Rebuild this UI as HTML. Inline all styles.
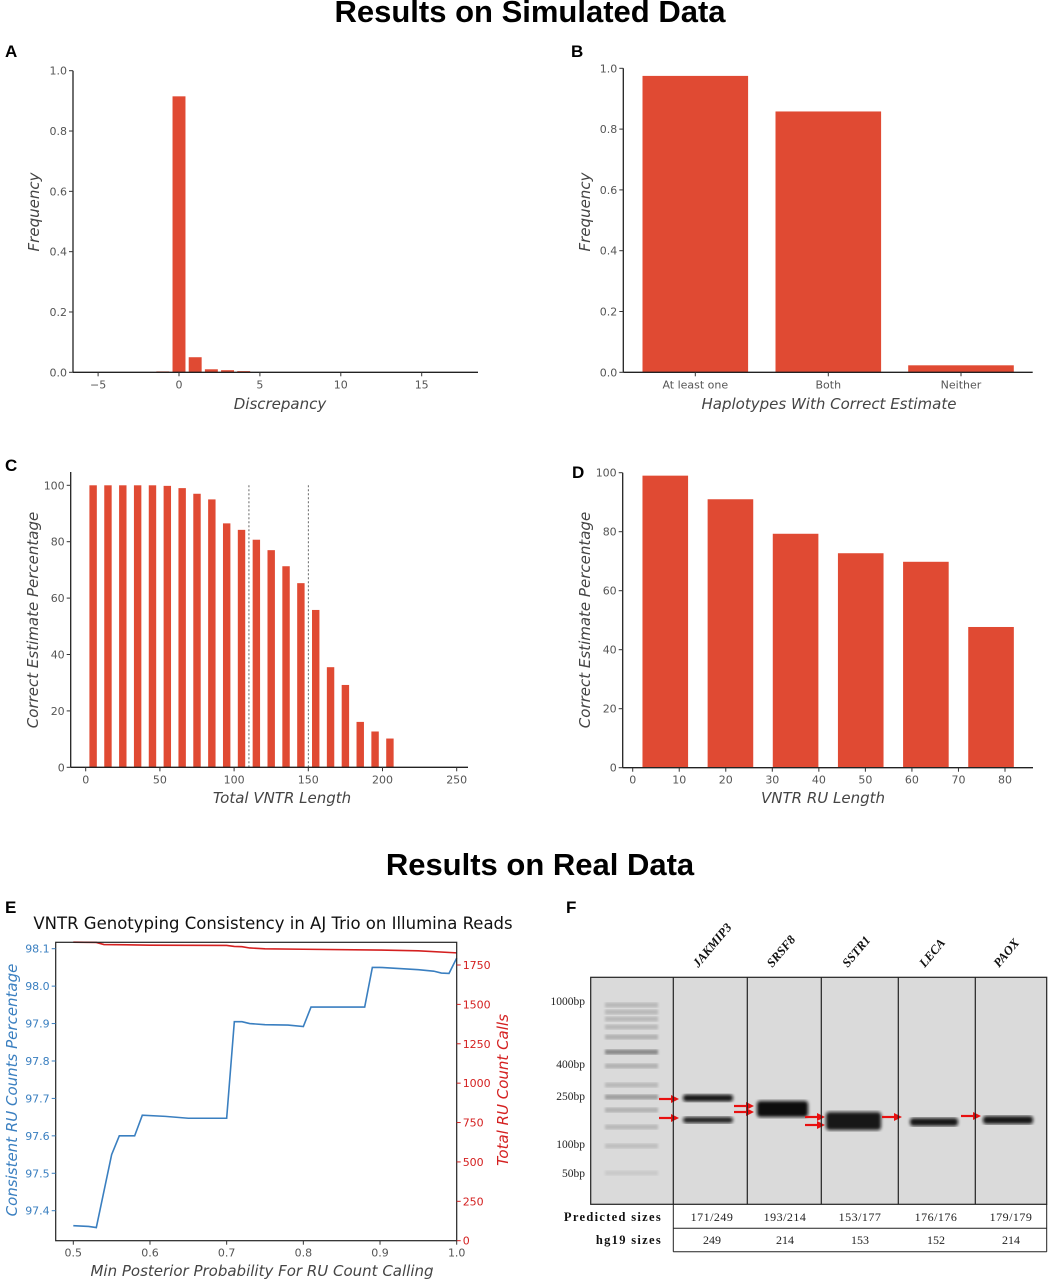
<!DOCTYPE html>
<html><head><meta charset="utf-8"><style>
html,body{margin:0;padding:0;background:#fff;}
svg{display:block;font-family:"DejaVu Sans","Liberation Sans",sans-serif;}
.tick{font-size:11px;fill:#555;}
.alab{font-size:15px;fill:#444;font-style:italic;}
.plet{font-size:17px;font-weight:bold;font-family:"Liberation Sans",sans-serif;fill:#000;}
.sec{font-size:31px;font-weight:bold;font-family:"Liberation Sans",sans-serif;fill:#000;}
.serif{font-family:"Liberation Serif","DejaVu Serif",serif;}
</style></head><body>
<svg id="fig" width="1049" height="1280" viewBox="0 0 1049 1280" xmlns="http://www.w3.org/2000/svg">
<text class="sec" x="530" y="22" text-anchor="middle">Results on Simulated Data</text>
<text class="sec" x="540" y="875" text-anchor="middle">Results on Real Data</text>
<text class="plet" x="5" y="57">A</text>
<text class="plet" x="571" y="57">B</text>
<text class="plet" x="5" y="471">C</text>
<text class="plet" x="572" y="478">D</text>
<text class="plet" x="5" y="913">E</text>
<text class="plet" x="566" y="913">F</text>
<g id="gA"></g>
<g id="gB"></g>
<g id="gC"></g>
<g id="gD"></g>
<g id="gE"></g>
<g id="gF"></g>
</svg>
<script>
// ---- Panel A data ----
const aCats = [-1, 0, 1, 2, 3, 4];
const aVals = [0.003, 0.915, 0.05, 0.01, 0.007, 0.004];
const aXTicks = [-5, 0, 5, 10, 15];
const aYTicks = [0, 0.2, 0.4, 0.6, 0.8, 1.0];
// ---- Panel B data ----
const bCats = ["At least one", "Both", "Neither"];
const bVals = [0.975, 0.858, 0.023];
const bYTicks = [0, 0.2, 0.4, 0.6, 0.8, 1.0];
// ---- Panel C data ----
const cCats = [5,15,25,35,45,55,65,75,85,95,105,115,125,135,145,155,165,175,185,195,205];
const cVals = [100,100,100,100,100,99.8,99,97,95,86.5,84.2,80.7,77,71.3,65.3,55.8,35.5,29.2,16.1,12.7,10.2];
const cXTicks = [0,50,100,150,200,250];
const cYTicks = [0,20,40,60,80,100];
const cDashed = [110,150];
// ---- Panel D data ----
const dCats = [7,21,35,49,63,77];
const dVals = [99,91,79.3,72.7,69.8,47.7];
const dXTicks = [0,10,20,30,40,50,60,70,80];
const dYTicks = [0,20,40,60,80,100];
// ---- Panel E data ----
const eX = [0.5,0.52,0.53,0.55,0.56,0.58,0.59,0.62,0.65,0.70,0.71,0.72,0.73,0.75,0.78,0.80,0.81,0.88,0.89,0.90,0.95,0.97,0.98,0.99,1.0];
const eConsistent = [97.36,97.358,97.355,97.55,97.60,97.60,97.655,97.652,97.647,97.647,97.905,97.905,97.90,97.897,97.896,97.892,97.944,97.944,98.05,98.05,98.044,98.04,98.035,98.034,98.075];
const eTotalX = [0.5,0.53,0.54,0.6,0.70,0.71,0.72,0.73,0.75,0.80,0.9,0.95,1.0];
const eTotal = [1895,1893,1880,1876,1874,1868,1866,1858,1853,1850,1845,1840,1827];
const eXTicks = [0.5,0.6,0.7,0.8,0.9,1.0];
const eLTicks = [97.4,97.5,97.6,97.7,97.8,97.9,98.0,98.1];
const eRTicks = [0,250,500,750,1000,1250,1500,1750];
// ---- Panel F data ----
const fLanes = ["JAKMIP3","SRSF8","SSTR1","LECA","PAOX"];
const fPredicted = ["171/249","193/214","153/177","176/176","179/179"];
const fHg19 = ["249","214","153","152","214"];
const fLadder = ["1000bp","400bp","250bp","100bp","50bp"];

const NS="http://www.w3.org/2000/svg";
const RED="#e04a33";
function el(parent,tag,attrs,text){const e=document.createElementNS(NS,tag);for(const k in attrs)e.setAttribute(k,attrs[k]);if(text!==undefined)e.textContent=text;parent.appendChild(e);return e;}
function lin(d0,d1,r0,r1){return v=>r0+(v-d0)*(r1-r0)/(d1-d0);}
function fmt(v,dec){return v<0?"\u2212"+Math.abs(v).toFixed(dec):v.toFixed(dec);}

function axesBasic(g,x0,x1,y0,y1){
  const l1=el(g,"line",{x1:x0,y1:y0,x2:x0,y2:y1,stroke:"#222","stroke-width":1.3});
  
  
  const l2=el(g,"line",{x1:x0,y1:y0,x2:x1,y2:y0,stroke:"#222","stroke-width":1.3});
  
  
}
function yTicks(g,ax,sy,ticks,dec,color){
  ticks.forEach(t=>{const y=sy(t);
    el(g,"line",{x1:ax-4,y1:y,x2:ax,y2:y,stroke:color||"#333"});
    const tx=el(g,"text",{x:ax-6,y:y+4,"text-anchor":"end",class:"tick"},fmt(t,dec));
    if(color)tx.style.fill=color;
    
    });
}
function xTicks(g,ay,sx,ticks,labels){
  ticks.forEach((t,i)=>{const x=sx(t);
    el(g,"line",{x1:x,y1:ay,x2:x,y2:ay+4,stroke:"#333"});
    const tx=el(g,"text",{x:x,y:ay+16,"text-anchor":"middle",class:"tick"},labels?labels[i]:String(t));
    
    });
}
function axTitle(g,x,y,txt,rot,name,color){
  const t=el(g,"text",{x:x,y:y,"text-anchor":"middle",class:"alab"},txt);
  if(rot)t.setAttribute("transform",`rotate(-90 ${x} ${y})`);
  if(color)t.style.fill=color;
  
  
}
function bars(g,cats,vals,sx,sy,w,name){
  cats.forEach((c,i)=>{const x=sx(c);const y=sy(vals[i]);
    const r=el(g,"rect",{x:x-w/2,y:y,width:w,height:sy(0)-y,fill:RED});
    
    });
}

// Panel A
(function(){const g=document.getElementById("gA");
  const sx=lin(0,15,179,421.7), sy=lin(0,1,372.3,70.7);
  bars(g,aCats,aVals,sx,sy,0.8*(sx(1)-sx(0)),"bar-a");
  axesBasic(g,73,478,372.3,70.7);
  yTicks(g,73,sy,aYTicks,1);xTicks(g,372.3,sx,aXTicks,aXTicks.map(v=>fmt(v,0)));
  axTitle(g,280,409,"Discrepancy",false,"x-axis-title-a");
  axTitle(g,39,212,"Frequency",true,"y-axis-title-a");
})();
// Panel B
(function(){const g=document.getElementById("gB");
  const pos=[695.3,828.3,961];const sy=lin(0,1,372.3,68.3);
  const sx=i=>pos[i];
  bars(g,bCats.map((c,i)=>i),bVals,sx,sy,105.6,"bar-b");
  axesBasic(g,623.3,1032.7,372.3,68.3);
  yTicks(g,623.3,sy,bYTicks,1);xTicks(g,372.3,sx,bCats.map((c,i)=>i),bCats);
  axTitle(g,829,409,"Haplotypes With Correct Estimate",false,"x-axis-title-b");
  axTitle(g,590,212,"Frequency",true,"y-axis-title-b");
})();
// Panel C
(function(){const g=document.getElementById("gC");
  const sx=lin(0,250,85.7,456.7), sy=lin(0,100,767.3,485.3);
  bars(g,cCats,cVals,sx,sy,5*(sx(1)-sx(0)),"bar-c");
  cDashed.forEach(v=>{const l=el(g,"line",{x1:sx(v),y1:sy(0),x2:sx(v),y2:sy(100),stroke:"#444","stroke-width":0.8,"stroke-dasharray":"2,2"});
    
    });
  axesBasic(g,70.7,468,767.3,472);
  yTicks(g,70.7,sy,cYTicks,0);xTicks(g,767.3,sx,cXTicks);
  axTitle(g,282,803,"Total VNTR Length",false,"x-axis-title-c");
  axTitle(g,38,620,"Correct Estimate Percentage",true,"y-axis-title-c");
})();
// Panel D
(function(){const g=document.getElementById("gD");
  const sx=lin(0,80,632.7,1005), sy=lin(0,100,767.7,472.7);
  bars(g,dCats,dVals,sx,sy,9.8*(sx(1)-sx(0)),"bar-d");
  axesBasic(g,622.7,1033,767.7,472.7);
  yTicks(g,622.7,sy,dYTicks,0);xTicks(g,767.7,sx,dXTicks);
  axTitle(g,823,803,"VNTR RU Length",false,"x-axis-title-d");
  axTitle(g,590,620,"Correct Estimate Percentage",true,"y-axis-title-d");
})();
// Panel E
(function(){const g=document.getElementById("gE");
  const L=55.7,R=456.7,T=942.3,B=1240.7;
  const sx=lin(0.5,1.0,73.3,456.7), syL=lin(97.4,98.1,1210.7,948.7), syR=lin(0,1750,1240.7,965);
  const t=el(g,"text",{x:273,y:929,"text-anchor":"middle","font-size":"16.5px",fill:"#111"},"VNTR Genotyping Consistency in AJ Trio on Illumina Reads");
  
  
  const bl=el(g,"polyline",{points:eX.map((x,i)=>sx(x)+","+syL(eConsistent[i])).join(" "),fill:"none",stroke:"#3a7fc0","stroke-width":1.6});
  
  
  const rl=el(g,"polyline",{points:eTotalX.map((x,i)=>sx(x)+","+syR(eTotal[i])).join(" "),fill:"none",stroke:"#d42020","stroke-width":1.6});
  
  
  const box=el(g,"rect",{x:L,y:T,width:R-L,height:B-T,fill:"none",stroke:"#222","stroke-width":1.2});
  
  
  yTicks(g,L,syL,eLTicks,1,"#3a7fc0");
  eRTicks.forEach(v=>{const y=syR(v);el(g,"line",{x1:R,y1:y,x2:R+4,y2:y,stroke:"#d42020"});
    const tx=el(g,"text",{x:R+6,y:y+4,class:"tick"},String(v));tx.style.fill="#d42020";
    
    });
  xTicks(g,B,sx,eXTicks,eXTicks.map(v=>v.toFixed(1)));
  axTitle(g,262,1276,"Min Posterior Probability For RU Count Calling",false,"x-axis-title-e");
  axTitle(g,17,1090,"Consistent RU Counts Percentage",true,"left-axis-title-e","#3a7fc0");
  axTitle(g,508,1090,"Total RU Count Calls",true,"right-axis-title-e","#d42020");
})();
// Panel F
(function(){const g=document.getElementById("gF");
  const defs=el(g,"defs",{});const f=el(defs,"filter",{id:"blur"});el(f,"feGaussianBlur",{stdDeviation:"1.6"});
  const f2=el(defs,"filter",{id:"blur2"});el(f2,"feGaussianBlur",{stdDeviation:"1.2"});
  const gx0=590.7,gx1=1046.7,gy0=977.3,gy1=1204.3;
  const div=[590.7,673.3,747.3,821.3,898.3,975.3,1046.7];
  const bg=el(g,"rect",{x:gx0,y:gy0,width:gx1-gx0,height:gy1-gy0,fill:"#dadada"});
  
  
  const lb=[[1005,0.25],[1012,0.25],[1019,0.25],[1027,0.25],[1037,0.3],[1052,0.6],[1066,0.3],[1085,0.25],[1097,0.45],[1110,0.3],[1127,0.25],[1146,0.2],[1173,0.12]];
  lb.forEach(b=>{el(g,"rect",{x:605,y:b[0]-2.5,width:53,height:5,fill:"#555",opacity:b[1],filter:"url(#blur2)"});});
  const sb=[[683,733,1098,7,0.95],[683,733,1120,6,0.9],[757,808,1109,16,1],[826,881,1121,18,0.95],[910,958,1122,8,0.95],[983,1033,1120,8,0.95]];
  sb.forEach((b,i)=>{const r=el(g,"rect",{x:b[0],y:b[2]-b[3]/2,width:b[1]-b[0],height:b[3],rx:3,fill:"#111",opacity:b[4],filter:"url(#blur)"});
    
    });
  const ar=[[659,1099],[659,1118],[734,1106],[734,1112],[805,1117],[805,1125],[882,1117],[961,1116]];
  ar.forEach(a=>{el(g,"line",{x1:a[0],y1:a[1],x2:a[0]+14,y2:a[1],stroke:"#e81010","stroke-width":2.2});
    el(g,"polygon",{points:`${a[0]+12},${a[1]-4} ${a[0]+20},${a[1]} ${a[0]+12},${a[1]+4}`,fill:"#e81010"});});
  div.slice(1,-1).forEach(x=>el(g,"line",{x1:x,y1:gy0,x2:x,y2:gy1,stroke:"#222","stroke-width":1.2}));
  el(g,"rect",{x:gx0,y:gy0,width:gx1-gx0,height:gy1-gy0,fill:"none",stroke:"#222","stroke-width":1.2});
  const ly=[1001,1064,1096,1144,1173];
  fLadder.forEach((t,i)=>{const tx=el(g,"text",{x:585,y:ly[i]+4,"text-anchor":"end",class:"serif","font-size":"11.5px",fill:"#222"},t);
    
    });
  fLanes.forEach((n,i)=>{const cx=(div[i+1]+div[i+2])/2-12;const y=968;
    const tx=el(g,"text",{x:cx,y:y,class:"serif","font-size":"12.5px","font-style":"italic","font-weight":"bold",fill:"#111",transform:`rotate(-50 ${cx} ${y})`},n);
    
    });
  el(g,"line",{x1:673.3,y1:1228.3,x2:1046.7,y2:1228.3,stroke:"#222"});
  el(g,"line",{x1:673.3,y1:1251.7,x2:1046.7,y2:1251.7,stroke:"#222"});
  el(g,"line",{x1:673.3,y1:1204.3,x2:673.3,y2:1251.7,stroke:"#222"});
  el(g,"line",{x1:1046.7,y1:1204.3,x2:1046.7,y2:1251.7,stroke:"#222"});
  const h1=el(g,"text",{x:662,y:1221,"text-anchor":"end",class:"serif","font-size":"12.5px","font-weight":"bold","letter-spacing":"1.3",fill:"#111"},"Predicted sizes");
  
  
  const h2=el(g,"text",{x:662,y:1244,"text-anchor":"end",class:"serif","font-size":"12.5px","font-weight":"bold","letter-spacing":"1.3",fill:"#111"},"hg19 sizes");
  
  
  const cx=[712,785,860,936,1011];
  fPredicted.forEach((t,i)=>{const tx=el(g,"text",{x:cx[i],y:1221,"text-anchor":"middle",class:"serif","font-size":"12px",fill:"#222","letter-spacing":"0.5"},t);
    
    });
  fHg19.forEach((t,i)=>{const tx=el(g,"text",{x:cx[i],y:1244,"text-anchor":"middle",class:"serif","font-size":"12px",fill:"#222"},t);
    
    });
})();
</script>
</body></html>
